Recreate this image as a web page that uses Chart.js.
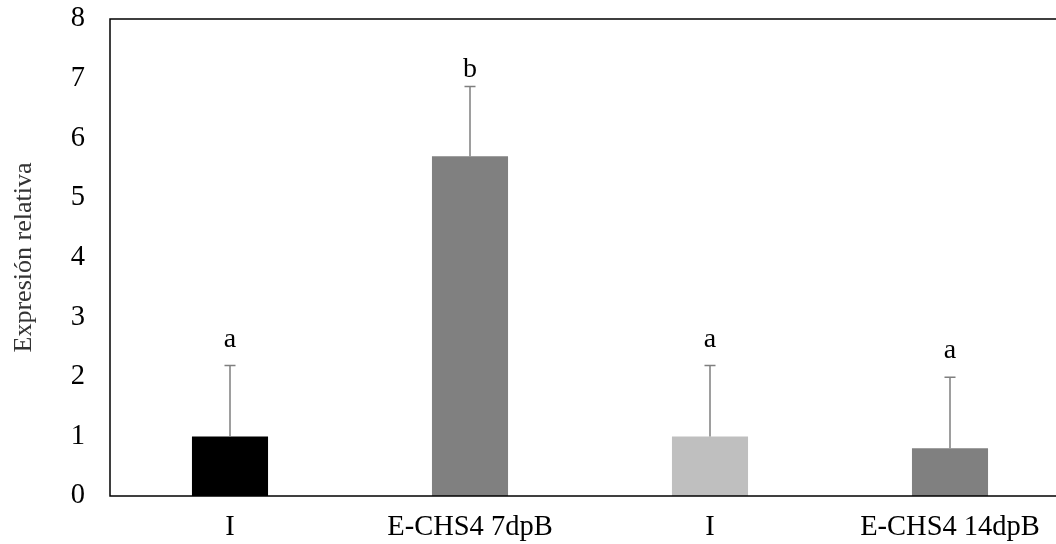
<!DOCTYPE html>
<html>
<head>
<meta charset="utf-8">
<script src="https://cdn.jsdelivr.net/npm/chart.js@4.4.0/dist/chart.umd.min.js"></script>
<style>
    html, body { margin: 0; padding: 0; background: #fff; overflow: hidden; }
    #chartContainer { width: 1072px; height: 544px; }
</style>
</head>
<body>
<div id="chartContainer"><canvas id="chart"></canvas></div>
<script>
// data
const categories = ['I', 'E-CHS4 7dpB', 'I', 'E-CHS4 14dpB'];
const values = [1.0, 5.7, 1.0, 0.8];
const errHigh = [2.19, 6.87, 2.19, 1.99];
const letters = ['a', 'b', 'a', 'a'];
const letterAt = [2.5, 7.02, 2.5, 2.31];
const barColors = ['#000000', '#808080', '#bfbfbf', '#808080'];
const yTicks = [0, 1, 2, 3, 4, 5, 6, 7, 8];

const FONT = '"Liberation Serif", "Times New Roman", serif';

const errorBars = {
    id: 'errorBars',
    afterDatasetsDraw(chart) {
        const ctx = chart.ctx;
        const y = chart.scales.y;
        const bars = chart.getDatasetMeta(0).data;
        ctx.save();
        ctx.strokeStyle = '#7f7f7f';
        ctx.lineWidth = 1.5;
        bars.forEach(function(bar, i) {
            const top = y.getPixelForValue(errHigh[i]);
            ctx.beginPath();
            ctx.moveTo(bar.x, bar.y);
            ctx.lineTo(bar.x, top);
            ctx.moveTo(bar.x - 5.5, top);
            ctx.lineTo(bar.x + 5.5, top);
            ctx.stroke();
        });
        ctx.fillStyle = '#000';
        ctx.font = '28px ' + FONT;
        ctx.textAlign = 'center';
        ctx.textBaseline = 'alphabetic';
        bars.forEach(function(bar, i) {
            ctx.fillText(letters[i], bar.x, y.getPixelForValue(letterAt[i]));
        });
        ctx.restore();
    }
};

const frame = {
    id: 'frame',
    afterDraw(chart) {
        const a = chart.chartArea;
        const ctx = chart.ctx;
        ctx.save();
        ctx.strokeStyle = '#000';
        ctx.lineWidth = 1.5;
        ctx.strokeRect(a.left, a.top, a.right - a.left, a.bottom - a.top);
        ctx.restore();
    }
};

const chart = new Chart(document.getElementById('chart'), {
    type: 'bar',
    data: {
        labels: categories,
        datasets: [{
            data: values,
            backgroundColor: barColors,
            borderWidth: 0,
            barPercentage: 1,
            categoryPercentage: 0.317
        }]
    },
    options: {
        responsive: true,
        maintainAspectRatio: false,
        animation: false,
        layout: { padding: { top: 19, right: 2, bottom: 0, left: 0 } },
        plugins: {
            legend: { display: false },
            tooltip: { enabled: false }
        },
        scales: {
            x: {
                grid: { display: false, drawTicks: false },
                border: { display: false },
                ticks: {
                    color: '#000',
                    padding: 14,
                    font: { family: FONT, size: 28.5 }
                },
                afterFit: function(scale) {
                    scale.height = 48;
                    scale.paddingLeft = 0;
                    scale.paddingRight = 0;
                }
            },
            y: {
                min: 0,
                max: 8,
                grid: { display: false, drawTicks: false },
                border: { display: false },
                afterBuildTicks: function(scale) {
                    scale.ticks = yTicks.map(function(v) { return { value: v }; });
                },
                ticks: {
                    color: '#000',
                    padding: 25,
                    font: { family: FONT, size: 28.5 }
                },
                title: {
                    display: true,
                    text: 'Expresión relativa',
                    color: '#333',
                    padding: { top: 9, bottom: 0 },
                    font: { family: FONT, size: 26 }
                },
                afterFit: function(scale) {
                    scale.width = 110;
                    scale.paddingTop = 0;
                    scale.paddingBottom = 0;
                }
            }
        }
    },
    plugins: [errorBars, frame]
});
</script>
</body>
</html>
